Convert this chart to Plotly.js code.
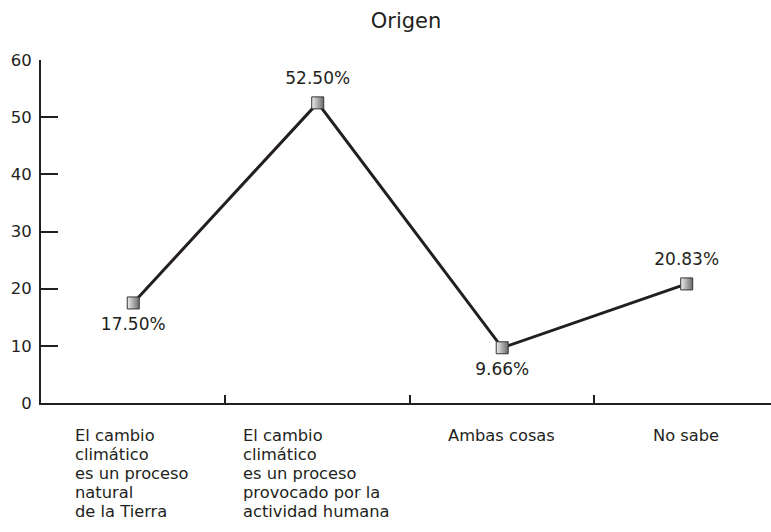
<!DOCTYPE html>
<html>
<head>
<meta charset="utf-8">
<script src="https://cdn.plot.ly/plotly-3.0.1.min.js"></script>
<style>html,body{margin:0;padding:0;background:#fff;}#chart{width:771px;height:532px;}</style>
</head>
<body>
<div id="chart"></div>
<script>
const categories = [
  "El cambio<br>climático<br>es un proceso<br>natural<br>de la Tierra",
  "El cambio<br>climático<br>es un proceso<br>provocado por la<br>actividad humana",
  "Ambas cosas",
  "No sabe"
];
const values = [17.50, 52.50, 9.66, 20.83];
const valueLabels = ["17.50%", "52.50%", "9.66%", "20.83%"];
const labelPositions = ["bottom center", "top center", "bottom center", "top center"];
const yTicks = [0, 10, 20, 30, 40, 50, 60];

const ink = "#231f20";
const fontFam = "'DejaVu Sans', sans-serif";
const catFontSize = 16.3;
const lineStep = 19.2;
const xIdx = categories.map((c, i) => i);

const lineTrace = {
  x: xIdx,
  y: values,
  type: "scatter",
  mode: "lines+markers",
  line: {color: ink, width: 3},
  marker: {
    symbol: "square",
    size: 12,
    color: "#eeeeee",
    gradient: {type: "horizontal", color: "#6a6a6a"},
    line: {color: "#333", width: 1}
  },
  hoverinfo: "skip"
};

// same points, transparent wider marker only to set label distance
const labelTrace = {
  x: xIdx,
  y: values,
  type: "scatter",
  mode: "markers+text",
  marker: {size: 22, color: "rgba(0,0,0,0)"},
  text: valueLabels,
  textposition: labelPositions,
  textfont: {family: fontFam, size: 17, color: ink},
  cliponaxis: false,
  hoverinfo: "skip"
};

// measure text widths so multi-line blocks are centred but left-aligned
const cv = document.createElement("canvas").getContext("2d");
cv.font = catFontSize + "px 'DejaVu Sans'";
const annotations = [];
categories.forEach((c, i) => {
  const lines = c.split("<br>");
  const maxW = Math.max(...lines.map(l => cv.measureText(l).width));
  lines.forEach((l, k) => {
    annotations.push({
      x: i, y: 0, xref: "x", yref: "y",
      text: l, showarrow: false,
      xanchor: "left", yanchor: "middle", align: "left",
      height: lineStep - 0.5,
      xshift: -maxW / 2 - 3,
      yshift: -(32 + k * lineStep),
      font: {family: fontFam, size: catFontSize, color: ink}
    });
  });
});

const layout = {
  width: 771, height: 532,
  margin: {l: 41, r: 0, t: 60, b: 129},
  paper_bgcolor: "#fff", plot_bgcolor: "#fff",
  showlegend: false,
  font: {family: fontFam, color: ink},
  title: {text: "Origen", xref: "paper", x: 0.5, xanchor: "center",
          yref: "container", y: 0.962, yanchor: "middle",
          font: {family: fontFam, size: 21, color: ink}},
  xaxis: {
    range: [-0.5, 3.457],
    tickvals: [0.5, 1.5, 2.5],
    ticktext: ["", "", ""],
    ticks: "inside", ticklen: 8, tickwidth: 2, tickcolor: ink,
    showline: true, linecolor: ink, linewidth: 2,
    showgrid: false, zeroline: false, fixedrange: true
  },
  yaxis: {
    range: [0, 60],
    tickvals: yTicks,
    ticks: "inside", ticklen: 17, tickwidth: 2, tickcolor: ink,
    showline: true, linecolor: ink, linewidth: 2,
    showgrid: false, zeroline: false,
    tickfont: {family: fontFam, size: 16.5, color: ink},
    ticklabelstandoff: 4,
    fixedrange: true
  },
  annotations: annotations
};

Plotly.newPlot("chart", [lineTrace, labelTrace], layout, {displayModeBar: false, staticPlot: true});
</script>
</body>
</html>
